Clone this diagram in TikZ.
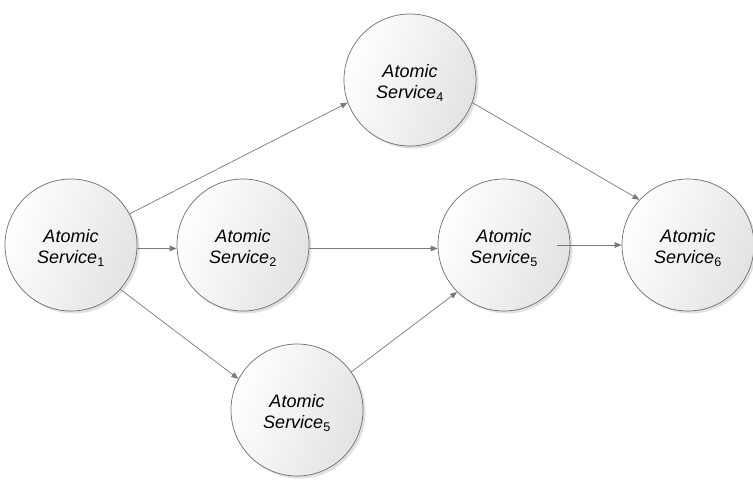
\documentclass[tikz,border=0pt]{standalone}
\usepackage{fontspec}
\setmainfont{Liberation Sans}
\usetikzlibrary{shadows,arrows.meta}
\definecolor{edgegray}{HTML}{7A7A7A}
\definecolor{rimgray}{HTML}{6E6E6E}
\tikzset{
  svc/.style={circle, minimum size=132pt, inner sep=0pt, draw=rimgray, line width=0.7pt,
    left color=white, right color=black!11, shading angle=70,
    drop shadow={shadow xshift=2.5pt, shadow yshift=-2.5pt, opacity=0.2, fill=black!60},
    font=\fontsize{18}{21}\selectfont\itshape},
  flow/.style={draw=edgegray, line width=0.7pt, -{Triangle[length=7pt,width=5.5pt]}}
}
% two-line service label, set slightly below the circle centre
\newcommand{\svclabel}[1]{\raisebox{-4pt}[\height][\depth]{\begin{tabular}{@{}c@{}}Atomic\\Service\textsubscript{\upshape #1}\end{tabular}}}
\begin{document}
\begin{tikzpicture}[x=1pt,y=-1pt]
\useasboundingbox (0,0) rectangle (753,480);
\node[svc] (s1) at (71,245) {\svclabel{1}};
\node[svc] (s2) at (243,245) {\svclabel{2}};
\node[svc] (s4) at (410,80) {\svclabel{4}};
\node[svc] (s5) at (504,245) {\svclabel{5}};
\node[svc] (s6) at (688,245) {\svclabel{6}};
\node[svc] (s7) at (297,410) {\svclabel{5}};
\draw[flow] (s1.28) -- (s4.200);
\draw[flow] (s1.-3) -- (s2.183);
\draw[flow] (s1.-42) -- (s7.152);
\draw[flow] (s2.-3) -- (s5.183);
\draw[flow] (s4.-20) -- (s6.137);
\draw[flow] (s7.35) -- (s5.225);
\draw[flow] ([xshift=-13pt]s5.east) -- (s6.west);
\end{tikzpicture}
\end{document}
